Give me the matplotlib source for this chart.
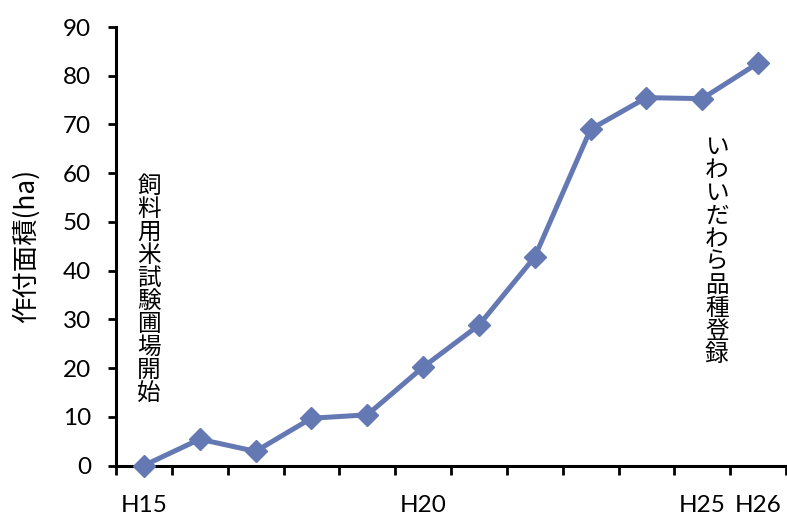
import matplotlib
matplotlib.use("Agg")
import matplotlib.pyplot as plt
import numpy as np

# Planted area by fiscal year (Heisei)
years = ["H15", "H16", "H17", "H18", "H19", "H20",
         "H21", "H22", "H23", "H24", "H25", "H26"]
area_ha = [0.0, 5.4, 2.9, 9.7, 10.4, 20.2, 28.8, 42.8, 69.0, 75.5, 75.3, 82.6]
shown_labels = {"H15", "H20", "H25", "H26"}
y_ticks = [0, 10, 20, 30, 40, 50, 60, 70, 80, 90]

ylabel_text = "作付面積(ha)"
note_start = "飼料用米試験圃場開始"
note_register = "いわいだわら品種登録"

JP = ["Noto Sans CJK JP", "DejaVu Sans"]
NUM = ["Lato", "Noto Sans CJK JP", "DejaVu Sans"]
line_color = "#6478B4"

fig = plt.figure(figsize=(7.87, 5.16), dpi=100)
ax = fig.add_axes([116 / 787, 1 - 465.5 / 516, (786 - 116) / 787, (465.5 - 27) / 516])

x = np.arange(len(years))
ax.plot(x, area_ha, color=line_color, lw=3.6, marker="D", markersize=11,
        markerfacecolor=line_color, markeredgecolor=line_color, clip_on=False,
        zorder=3)

ax.set_xlim(-0.5, len(years) - 0.5)
ax.set_ylim(0, 90)

for s in ("top", "right"):
    ax.spines[s].set_visible(False)
for s in ("left", "bottom"):
    ax.spines[s].set_linewidth(2.2)
    ax.spines[s].set_color("black")

# y axis
ax.set_yticks(y_ticks)
ax.set_yticklabels([str(v) for v in y_ticks], fontfamily=NUM, fontsize=17.5)
ax.tick_params(axis="y", direction="out", length=6, width=2, pad=12)

# x axis: tick marks on category boundaries, labels at category centres
ax.set_xticks(np.arange(len(years) + 1) - 0.5)
ax.set_xticklabels([])
ax.tick_params(axis="x", which="major", direction="out", length=6.5, width=2)
ax.set_xticks(x, minor=True)
ax.set_xticklabels([y if y in shown_labels else "" for y in years], minor=True,
                   fontfamily=NUM, fontsize=17.5)
ax.tick_params(axis="x", which="minor", length=0, pad=21)

ax.set_ylabel(ylabel_text, fontfamily=JP, fontsize=19)
ax.yaxis.label.set_va("center")
ax.yaxis.set_label_coords(-(116 - 26) / 670, 0.5)

# vertical annotations
ax.text(0.09, 36.0, "\n".join(note_start), fontfamily=JP, fontsize=17,
        ha="center", va="center", linespacing=1.0)
ax.text(10.26, 44.0, "\n".join(note_register), fontfamily=JP, fontsize=17,
        ha="center", va="center", linespacing=1.0)

fig.savefig("out.png", dpi=100)
